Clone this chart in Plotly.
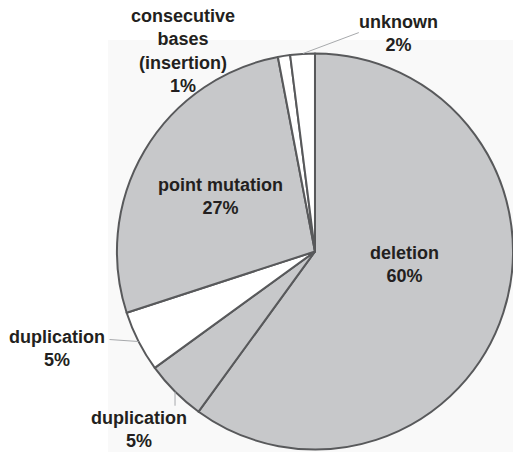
import math
import plotly.graph_objects as go

labels = ["deletion", "duplication", "duplication", "point mutation",
          "consecutive<br>bases<br>(insertion)", "unknown"]
values = [60, 5, 5, 27, 1, 2]
fills = ["#c7c8ca", "#c7c8ca", "#ffffff", "#c7c8ca", "#ffffff", "#ffffff"]

W, H = 513, 452
CX, CY, R = 315.25, 251.5, 198.3
FONT = dict(family="Liberation Sans, Arial, sans-serif", size=18, color="#231f20",
            weight="bold")

# label placement: (anchor radius as fraction of R, text-centre offset px, leader end offset px)
place = {
    0: (0.5, (-5, -18), None),
    1: (1.0, (-36, 38), (0, 14)),
    2: (1.0, (-82, 7), (-29, -2)),
    3: (0.5, (-9, -5), None),
    4: (1.0, (-101, -5), None),
    5: (1.0, (96, -20), (56, -21)),
}

fig = go.Figure(go.Pie(
    labels=[f"s{i}" for i in range(len(values))], values=values,
    textinfo="none",
    sort=False, direction="clockwise", rotation=0,
    marker=dict(colors=fills, line=dict(color="#58595b", width=2)),
    showlegend=False, hoverinfo="skip",
    domain=dict(x=[(CX - R) / W, 1.0], y=[(H - CY - R) / H, (H - CY + R) / H]),
))

def px2paper(x, y):
    return x / W, 1 - y / H

total = sum(values)
cum = 0
annotations, shapes = [], []
for i, v in enumerate(values):
    mid = (cum + v / 2) / total * 2 * math.pi
    cum += v
    k, (tx, ty), lead = place[i]
    ex, ey = CX + k * R * math.sin(mid), CY - k * R * math.cos(mid)
    x, y = px2paper(ex + tx, ey + ty)
    annotations.append(dict(x=x, y=y, xref="paper", yref="paper", showarrow=False,
                            xanchor="center", yanchor="middle",
                            text=f"{labels[i]}<br>{v}%", font=FONT, align="center"))
    if lead is not None:
        lx, ly = lead
        x0, y0 = px2paper(ex, ey)
        x1, y1 = px2paper(ex + lx, ey + ly)
        shapes.append(dict(type="line", xref="paper", yref="paper", x0=x0, y0=y0,
                           x1=x1, y1=y1, line=dict(color="#a7a9ac", width=1)))

shapes.insert(0, dict(type="rect", xref="paper", yref="paper", x0=108 / W, x1=1,
                      y0=0, y1=1 - 40 / H, fillcolor="#f9f9f9", line=dict(width=0),
                      layer="below"))

fig.update_layout(width=W, height=H, margin=dict(l=0, r=0, t=0, b=0),
                  paper_bgcolor="white", plot_bgcolor="white",
                  annotations=annotations, shapes=shapes)
fig.write_html("out.html", config={"displayModeBar": False},
               post_script="document.body.style.margin='0';")
